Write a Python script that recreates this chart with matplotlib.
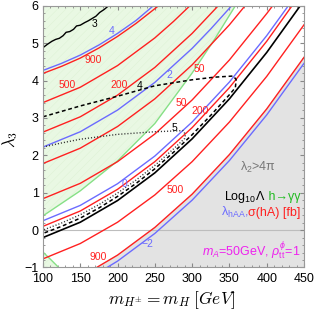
import matplotlib
matplotlib.use('Agg')
import matplotlib.pyplot as plt
from matplotlib.ticker import MultipleLocator

plt.rcParams['font.family'] = ['Liberation Sans', 'DejaVu Sans']
plt.rcParams['mathtext.fontset'] = 'custom'
plt.rcParams['mathtext.rm'] = 'Liberation Sans'
plt.rcParams['mathtext.it'] = 'Liberation Sans:italic'
plt.rcParams['hatch.linewidth'] = 0.3

# contour lines, x = m_H+- [GeV], y = lambda_3
# lambda_hAA (blue)
m_b4 = [100, 125, 150, 175, 200, 225, 248]
l_b4 = [4.27, 4.46, 4.68, 4.95, 5.26, 5.61, 6.0]
m_b2 = [100, 150, 200, 250, 300, 325, 353]
l_b2 = [2.22, 2.63, 3.21, 3.95, 4.86, 5.38, 6.0]
m_b0 = [100, 150, 200, 250, 300, 350, 400, 429]
l_b0 = [0.25, 0.66, 1.24, 1.98, 2.89, 3.96, 5.20, 6.0]
m_bm2 = [186, 200, 250, 300, 350, 400, 450]
l_bm2 = [-1.0, -0.83, -0.09, 0.80, 1.86, 3.08, 4.46]

# sigma(hA) [fb] (red)
m_r900u = [100, 125, 150, 175, 200, 225, 255]
l_r900u = [4.19, 4.38, 4.60, 4.87, 5.18, 5.53, 6.0]
m_r500u = [100, 150, 200, 250, 275, 297]
l_r500u = [3.41, 3.82, 4.40, 5.14, 5.58, 6.0]
m_r200u = [100, 150, 200, 250, 300, 335]
l_r200u = [2.62, 3.03, 3.61, 4.35, 5.26, 6.0]
m_r50u = [100, 150, 200, 250, 300, 350, 371]
l_r50u = [1.78, 2.19, 2.77, 3.51, 4.42, 5.49, 6.0]
m_r50l = [100, 150, 200, 250, 300, 350, 400, 408]
l_r50l = [0.84, 1.25, 1.83, 2.57, 3.48, 4.55, 5.79, 6.0]
m_r200l = [100, 150, 200, 250, 300, 350, 400, 434]
l_r200l = [0.10, 0.51, 1.09, 1.83, 2.74, 3.81, 5.05, 6.0]
m_r500l = [100, 150, 200, 250, 300, 350, 400, 450]
l_r500l = [-0.77, -0.36, 0.21, 0.94, 1.83, 2.89, 4.11, 5.49]
m_r900l = [172, 200, 250, 300, 350, 400, 450]
l_r900l = [-1.0, -0.67, 0.07, 0.96, 2.02, 3.24, 4.62]

# Log10 Lambda (black): 3 solid, 4 dashed, 5 dotted
m_k3a = [100, 106, 112, 117, 122, 127, 131, 136, 141, 145, 150, 156, 161, 166, 171, 176, 182, 188]
l_k3a = [4.88, 4.97, 5.05, 5.10, 5.13, 5.20, 5.29, 5.31, 5.37, 5.46, 5.48, 5.55, 5.60, 5.66, 5.72, 5.82, 5.90, 6.0]
m_k3b = [100, 150, 200, 250, 300, 350, 400, 445]
l_k3b = [-0.20, 0.21, 0.79, 1.53, 2.44, 3.51, 4.75, 6.0]
m_k4 = [100, 150, 200, 250, 300, 330, 355, 359, 358, 350, 325, 300, 275, 250, 225, 200, 175, 150, 125, 100]
l_k4 = [3.03, 3.32, 3.58, 3.86, 4.02, 4.09, 4.12, 4.03, 3.81, 3.62, 3.07, 2.55, 2.08, 1.64, 1.25, 0.90, 0.59, 0.32, 0.10, -0.09]
m_k5 = [100, 125, 150, 200, 250, 288, 291, 290, 275, 250, 225, 200, 175, 150, 125, 100]
l_k5 = [2.22, 2.33, 2.43, 2.56, 2.63, 2.66, 2.55, 2.45, 2.17, 1.73, 1.34, 0.99, 0.68, 0.41, 0.19, 0.0]

# h -> gamma gamma allowed boundaries (green)
m_gu = [100, 150, 200, 250, 300, 330, 358]
l_gu = [0.38, 1.05, 1.85, 2.85, 4.20, 5.10, 6.0]
m_gl = [100, 110, 121]
l_gl = [-0.59, -0.78, -1.0]

# lambda_2 > 4 pi boundary
m_gray = [171, 200, 250, 300, 350, 400, 450]
l_gray = [-1.0, -0.65, 0.09, 0.98, 2.04, 3.26, 4.64]

# contour labels
lab_m = [168.7, 192.4, 167.9, 132.1, 202.2, 229.9, 269.2, 309.4, 285.7, 310.3, 276.8, 209.4, 277.2, 240.6, 174.6]
lab_l = [5.50, 5.32, 4.56, 3.87, 3.87, 3.85, 4.14, 4.32, 3.41, 3.18, 2.74, 1.24, 1.06, -0.38, -0.72]
lab_t = ['3', '4', '900', '500', '200', '4', '2', '50', '50', '200', '5', '0', '500', '\u22122', '900']
lab_c = ['k', 'b', 'r', 'r', 'r', 'k', 'b', 'r', 'r', 'r', 'k', 'b', 'r', 'b', 'r']

RED = '#ff2020'
BLUE = '#6b6bff'
GREEN = '#86e086'
cmap = {'r': RED, 'b': BLUE, 'k': 'black'}

fig = plt.figure(figsize=(3.16, 3.11), dpi=100)
ax = fig.add_axes([0.136, 0.140, 0.826, 0.8415])
ax.set_xlim(100, 450)
ax.set_ylim(-1, 6)

# shaded regions
ax.fill_between(m_gu, l_gu, 6, facecolor='#e9f8e3', edgecolor='#dcf2d3', hatch='////', lw=0, zorder=0)
ax.fill_between(m_gl, l_gl, -1, facecolor='#e9f8e3', edgecolor='#dcf2d3', hatch='////', lw=0, zorder=0)
ax.fill_between(m_gray, l_gray, -1, facecolor='#e3e3e3', lw=0, zorder=0)
ax.axhline(0, color='#bdbdbd', lw=0.8, zorder=0.5)

ax.plot(m_gu, l_gu, color=GREEN, lw=1.0)
ax.plot(m_gl, l_gl, color=GREEN, lw=1.0)

for mm, ll in [(m_r900u, l_r900u), (m_r500u, l_r500u), (m_r200u, l_r200u), (m_r50u, l_r50u),
               (m_r50l, l_r50l), (m_r200l, l_r200l), (m_r500l, l_r500l), (m_r900l, l_r900l)]:
    ax.plot(mm, ll, color=RED, lw=1.0)
for mm, ll in [(m_b4, l_b4), (m_b2, l_b2), (m_b0, l_b0), (m_bm2, l_bm2)]:
    ax.plot(mm, ll, color=BLUE, lw=1.0)

ax.plot(m_k3a, l_k3a, color='black', lw=1.0)
ax.plot(m_k3b, l_k3b, color='black', lw=1.2)
ax.plot(m_k4, l_k4, color='black', lw=1.1, dashes=(2.5, 1.8))
ax.plot(m_k5, l_k5, color='#333333', lw=1.0, dashes=(0.8, 1.4))

for x, y, t, c in zip(lab_m, lab_l, lab_t, lab_c):
    ax.text(x, y, t, color=cmap[c], fontsize=7.5, ha='center', va='center')

ax.text(388, 1.67, '\u03bb$_2$>4\u03c0', color='#777777', fontsize=9, ha='center', va='center')


def two_color(x, y, left, right, cl, cr, size):
    t2 = ax.text(x, y, right, color=cr, ha='right', va='baseline', fontsize=size)
    fig.canvas.draw()
    bb = t2.get_window_extent()
    x0 = ax.transData.inverted().transform((bb.x0, bb.y0))[0]
    ax.text(x0, y, left, color=cl, ha='right', va='baseline', fontsize=size)


two_color(445.5, 0.80, 'Log$_{10}$\u039b', ' h\u2192\u03b3\u03b3', 'black', '#22bb22', 9)
two_color(445.5, 0.37, '\u03bb$_{\\mathrm{hAA}}$,', '\u03c3(hA) [fb]', BLUE, RED, 9)
ax.text(445.5, -0.68, '$m_A$=50GeV, $\\rho^{\\phi}_{\\mathrm{tt}}$=1', color='#ee22ee',
        fontsize=9, ha='right', va='baseline')

ax.xaxis.set_major_locator(MultipleLocator(50))
ax.xaxis.set_minor_locator(MultipleLocator(10))
ax.yaxis.set_major_locator(MultipleLocator(1))
ax.yaxis.set_minor_locator(MultipleLocator(0.2))
ax.tick_params(which='both', direction='in', top=True, right=True, color='#888888', labelsize=9, pad=3)
ax.tick_params(axis='x', which='major', pad=4)
ax.tick_params(which='major', length=3)
ax.tick_params(which='minor', length=1.6)
for s in ax.spines.values():
    s.set_color('#999999')
    s.set_linewidth(0.8)

fig.text(172 / 316, 1 - 304 / 311, r'$m_{H^{\pm}}=m_H\;[GeV]$', fontsize=12.5,
         math_fontfamily='cm', ha='center', va='baseline')
fig.text(10 / 316, 1 - 140 / 311, r'$\lambda_3$', fontsize=12, math_fontfamily='cm',
         rotation=90, ha='center', va='center')

fig.savefig('out.png', dpi=100)
